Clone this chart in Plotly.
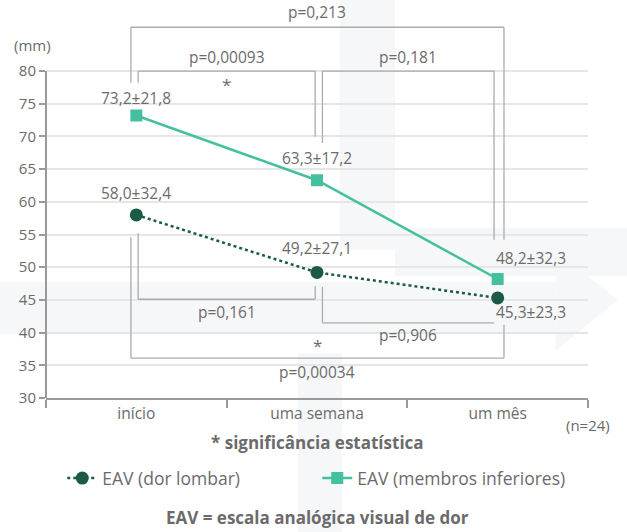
import plotly.graph_objects as go

# data
categories = ['início', 'uma semana', 'um mês']
lombar = [58.0, 49.2, 45.3]
lombar_sd = [32.4, 27.1, 23.3]
membros = [73.2, 63.3, 48.2]
membros_sd = [21.8, 17.2, 32.3]

y_ticks = [30, 35, 40, 45, 50, 55, 60, 65, 70, 75, 80]

# comparisons: (x0, x1, level, left leg end, right leg end, p label, p label y, star y)
brackets = [
    (0.01, 0.99, 80.0, 78.2, 70.0, 'p=0,00093', 82.2, 78.0),
    (1.03, 1.98, 80.0, 69.0, 54.2, 'p=0,181', 82.2, None),
    (-0.03, 2.035, 86.7, 78.2, 54.2, 'p=0,213', 89.0, None),
    (0.01, 0.99, 45.1, 55.2, 47.1, 'p=0,161', 43.2, None),
    (1.03, 1.98, 41.5, 47.0, None, 'p=0,906', 39.6, None),
    (-0.03, 2.035, 36.1, 54.6, 41.2, 'p=0,00034', 34.0, 38.0),
]

TXT = '#6b6b6b'
FONT = 'Open Sans'
GREEN = '#45c09e'
DARK = '#1b5a44'
WM = '#f6f7f9'
FS = 15.5

fig = go.Figure()
fig.add_trace(go.Scatter(
    x=categories, y=lombar, name='EAV (dor lombar)',
    mode='lines+markers',
    line=dict(color=DARK, width=2.5, dash='dot'),
    marker=dict(symbol='circle', size=13, color=DARK),
))
fig.add_trace(go.Scatter(
    x=categories, y=membros, name='EAV (membros inferiores)',
    mode='lines+markers',
    line=dict(color=GREEN, width=2.5),
    marker=dict(symbol='square', size=12, color=GREEN),
))

shapes = []
annotations = []

# faint watermark in the background
wm = dict(xref='paper', yref='paper', layer='below', fillcolor=WM, line=dict(width=0))
shapes += [
    dict(type='rect', x0=0.542, x1=0.644, y0=0.377, y1=1.02, **wm),
    dict(type='rect', x0=0.644, x1=1.08, y0=0.31, y1=0.433, **wm),
    dict(type='rect', x0=-0.1, x1=0.94, y0=0.163, y1=0.295, **wm),
    dict(type='path', path='M 0.94 0.375 L 1.055 0.25 L 0.94 0.12 Z', **wm),
    dict(type='rect', x0=0.465, x1=0.546, y0=-0.36, y1=0.114, **wm),
]

# y axis line only up to 80
shapes.append(dict(type='line', xref='paper', yref='y', x0=0, x1=0,
                   y0=y_ticks[0], y1=y_ticks[-1], line=dict(color='#9a9a9a', width=2)))

for x0, x1, lvl, leg0, leg1, lab, ly, sy in brackets:
    ln = dict(color='#ababab', width=1.3)
    shapes.append(dict(type='line', x0=x0, x1=x1, y0=lvl, y1=lvl, line=ln))
    shapes.append(dict(type='line', x0=x0, x1=x0, y0=lvl, y1=leg0, line=ln))
    if leg1 is not None:
        shapes.append(dict(type='line', x0=x1, x1=x1, y0=lvl, y1=leg1, line=ln))
    annotations.append(dict(x=(x0 + x1) / 2, y=ly, text=lab, showarrow=False,
                            font=dict(size=FS, color=TXT)))
    if sy is not None:
        annotations.append(dict(x=(x0 + x1) / 2, y=sy, text='*', showarrow=False,
                                font=dict(size=17, color=TXT)))

# mean ± sd labels
for i, (m, s) in enumerate(zip(membros, membros_sd)):
    lab = f'{m:.1f}±{s:.1f}'.replace('.', ',')
    if i < 2:
        annotations.append(dict(x=i, y=m, text=lab, showarrow=False, yshift=18 if i == 0 else 22,
                                font=dict(size=FS, color=TXT)))
    else:
        annotations.append(dict(x=i, y=m, text=lab, showarrow=False, yshift=21,
                                xanchor='left', xshift=-4, font=dict(size=FS, color=TXT)))
for i, (m, s) in enumerate(zip(lombar, lombar_sd)):
    lab = f'{m:.1f}±{s:.1f}'.replace('.', ',')
    if i < 2:
        annotations.append(dict(x=i, y=m, text=lab, showarrow=False, yshift=22 if i == 0 else 24,
                                font=dict(size=FS, color=TXT)))
    else:
        annotations.append(dict(x=i, y=m, text=lab, showarrow=False, yshift=-14,
                                xanchor='left', xshift=-4, font=dict(size=FS, color=TXT)))

annotations += [
    dict(xref='paper', yref='paper', x=0.013, y=0.898, text='(mm)', showarrow=False,
         xanchor='right', yanchor='middle', font=dict(size=15, color=TXT)),
    dict(xref='paper', yref='paper', x=1.0, y=-0.069, text='(n=24)', showarrow=False,
         xanchor='center', yanchor='middle', font=dict(size=15, color=TXT)),
    dict(xref='paper', yref='paper', x=0.5, y=-0.112, text='<b>* significância estatística</b>',
         showarrow=False, yanchor='middle', font=dict(size=17, color=TXT)),
    dict(xref='paper', yref='paper', x=0.5, y=-0.305, text='<b>EAV = escala analógica visual de dor</b>',
         showarrow=False, yanchor='middle', font=dict(size=17, color=TXT)),
]

fig.update_layout(
    width=627, height=532,
    margin=dict(l=46, r=39, t=5, b=134),
    paper_bgcolor='white', plot_bgcolor='rgba(255,255,255,0.45)',
    font=dict(family=FONT, color=TXT),
    showlegend=True,
    legend=dict(orientation='h', x=0.03, xanchor='left', y=-0.204, yanchor='middle',
                font=dict(size=17.5, color=TXT), entrywidthmode='pixels', entrywidth=210,
                tracegroupgap=0, bgcolor='rgba(0,0,0,0)'),
    shapes=shapes,
    annotations=annotations,
    xaxis=dict(
        range=[-0.5, 2.5], showline=True, linecolor='#9a9a9a', linewidth=2,
        ticks='outside', tickson='boundaries', ticklen=8, tickcolor='#9a9a9a', tickwidth=2,
        showgrid=False, tickfont=dict(size=FS, color=TXT), zeroline=False,
    ),
    yaxis=dict(
        range=[30, 90.1], tickvals=y_ticks, ticks='outside', ticklen=6,
        tickcolor='#9a9a9a', tickwidth=2, showline=False, zeroline=False,
        showgrid=True, gridcolor='#e6e6e6', gridwidth=1.5,
        tickfont=dict(size=15, color=TXT),
    ),
)

fig.write_html('out.html', config={'displayModeBar': False},
               post_script="document.body.style.margin='0';")
